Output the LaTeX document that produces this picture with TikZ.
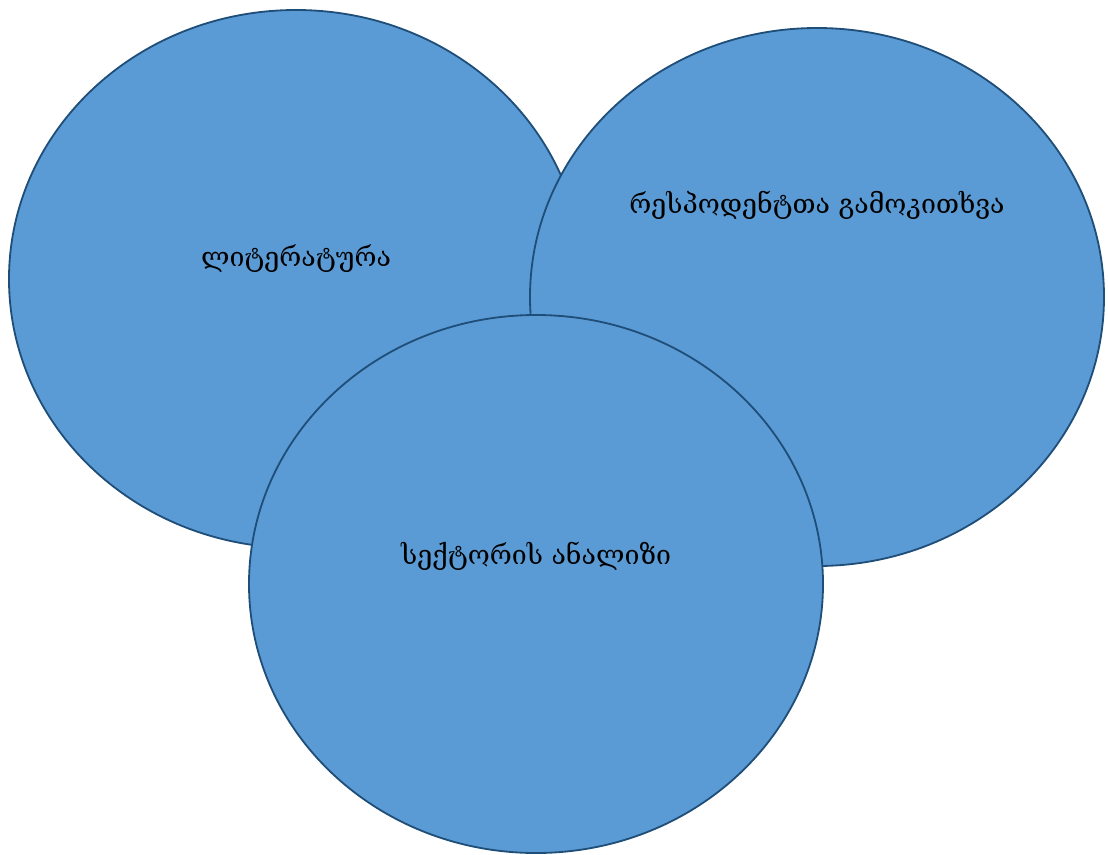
\documentclass[tikz,border=0pt]{standalone}
\usepackage{fontspec}
\setmainfont{DejaVu Serif}
\usetikzlibrary{shapes.geometric,positioning}
\definecolor{circfill}{HTML}{5B9BD5}
\definecolor{circline}{HTML}{1F4E79}
\tikzset{
  topic/.style={ellipse,minimum width=14.35cm,minimum height=13.45cm,
    draw=circline,fill=circfill,line width=1.3pt,inner sep=0pt},
  topiclabel/.style={font=\fontsize{19}{23}\selectfont,text=black,inner sep=1pt},
}
\begin{document}
\begin{tikzpicture}
  \useasboundingbox (0,0) rectangle (27.7,-21.35);
  \node[topic] (lit) at (7.4,-6.975) {};
  \node[topic] (resp) at (20.425,-7.425) {};
  \node[topic] (sect) at (13.4,-14.6) {};
  \node[topiclabel,yshift=0.5cm] (littext) at (lit.center) {ლიტერატურა};
  \node[topiclabel,yshift=2.3cm] (resptext) at (resp.center) {რესპოდენტთა გამოკითხვა};
  \node[topiclabel,yshift=0.7cm] (secttext) at (sect.center) {სექტორის ანალიზი};
\end{tikzpicture}
\end{document}
